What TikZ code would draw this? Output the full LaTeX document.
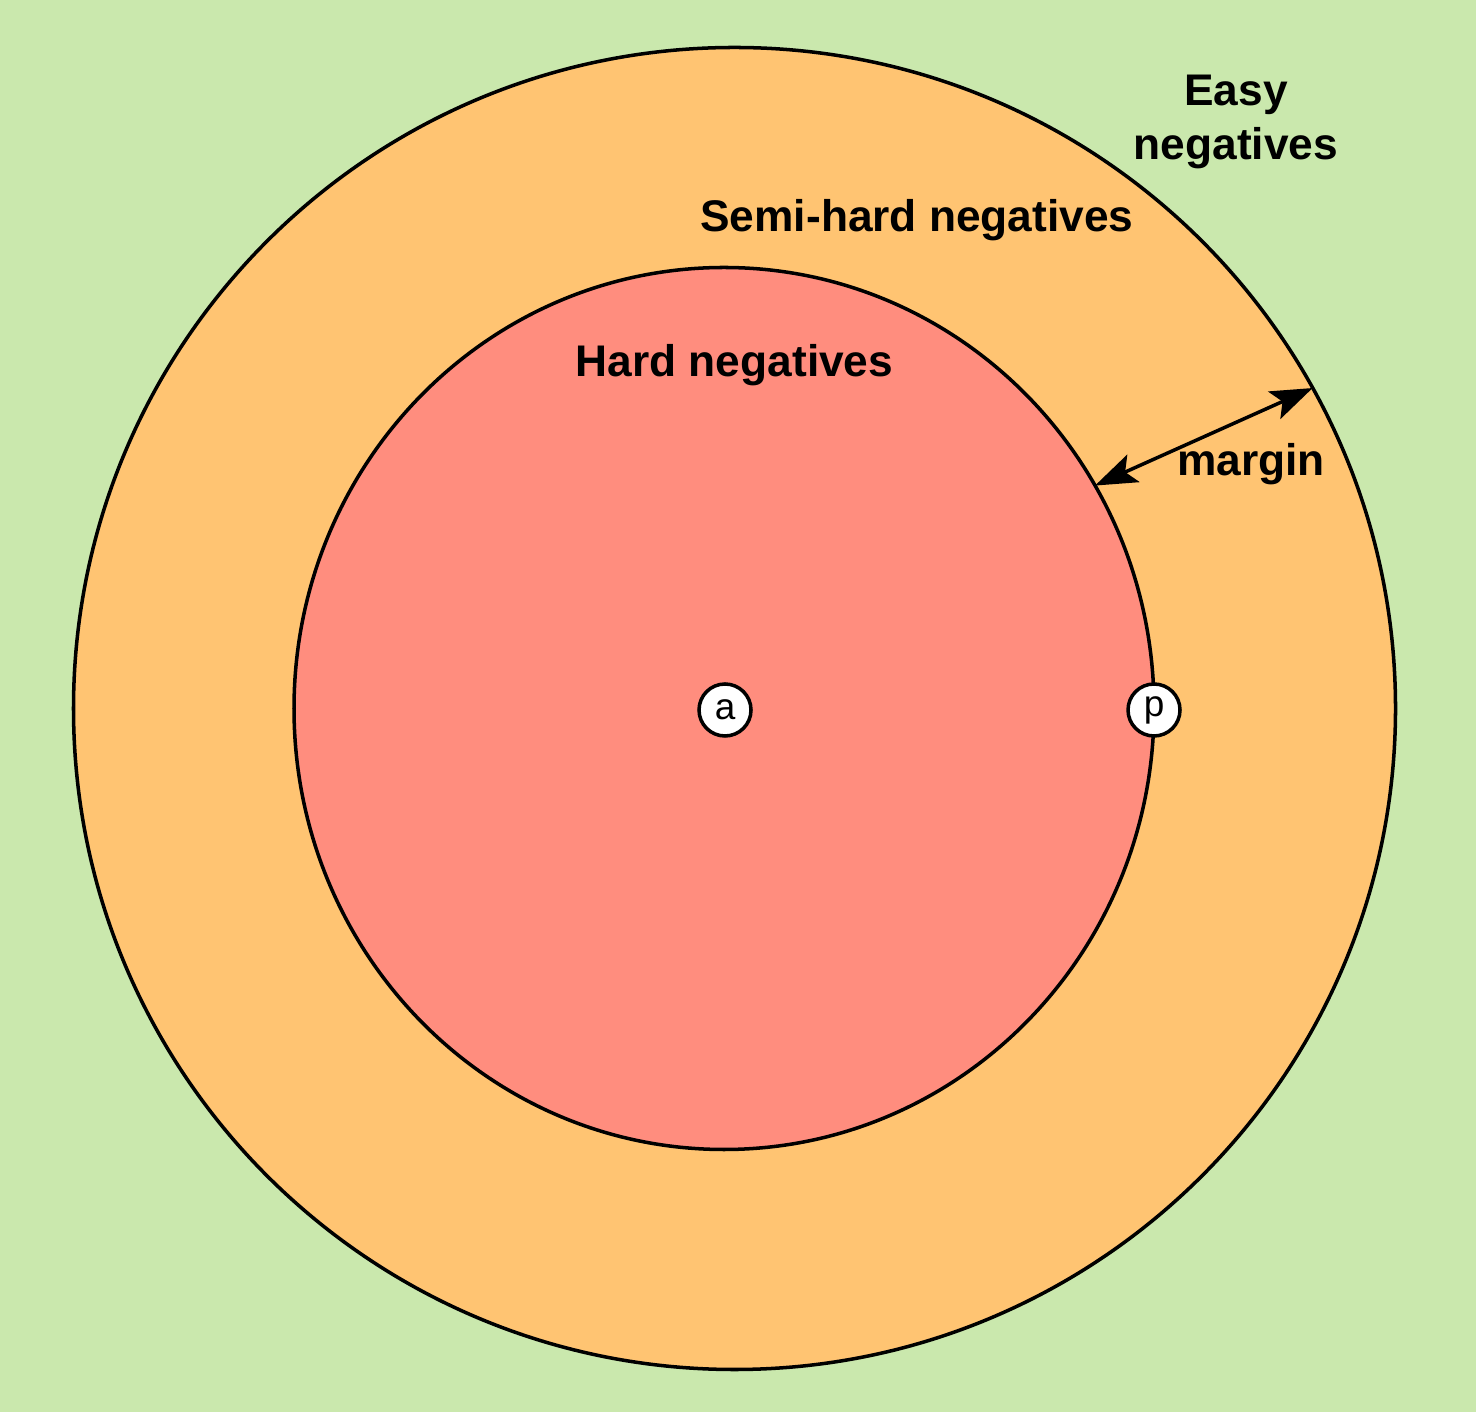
\documentclass[tikz,border=0pt]{standalone}
\usepackage{fontspec}
\setmainfont{Liberation Sans}
\usepackage{xcolor}
\definecolor{easygreen}{RGB}{202,232,173}
\definecolor{semiorange}{RGB}{255,196,114}
\definecolor{hardred}{RGB}{255,141,126}
\usetikzlibrary{arrows.meta,positioning,shapes.geometric}
\tikzset{
  zone/.style={draw=black, line width=1pt, inner sep=0pt, outer sep=0pt},
  zonelabel/.style={font=\fontsize{12.6}{15.5}\selectfont\bfseries, align=center, inner sep=0pt},
  sample/.style={circle, draw=black, fill=white, line width=1pt, minimum size=0.52cm, inner sep=0pt, font=\fontsize{10.5}{12}\selectfont},
  marginarrow/.style={line width=1pt, >={Stealth[length=0.42cm, width=0.30cm, inset=0.09cm]}, <->},
}
\begin{document}
\begin{tikzpicture}
  % Background
  \fill[easygreen] (0,0) rectangle (14.76,14.12);
  \useasboundingbox (0,0) rectangle (14.76,14.12);

  % Zones
  \node[zone, circle, fill=semiorange, minimum size=13.22cm] (easy) at (7.345,7.035) {};
  \node[zone, ellipse, fill=hardred, minimum width=8.60cm, minimum height=8.82cm] (hard) at (7.24,7.035) {};

  % Anchor and positive
  \node[sample] (a) at (7.25,7.02) {a};
  \node[sample] (p) at (11.54,7.02) {p};

  % Margin arrow
  \draw[marginarrow] (hard.31.4) -- (easy.29.4);

  % Labels
  \node[zonelabel] (easytext) at (12.36,12.90) {Easy\\negatives};
  \node[zonelabel] (semitext) at (9.17,11.92) {Semi-hard negatives};
  \node[zonelabel] (hardtext) at (7.345,10.47) {Hard negatives};
  \node[zonelabel] (margintext) at (12.51,9.48) {margin};
\end{tikzpicture}
\end{document}
